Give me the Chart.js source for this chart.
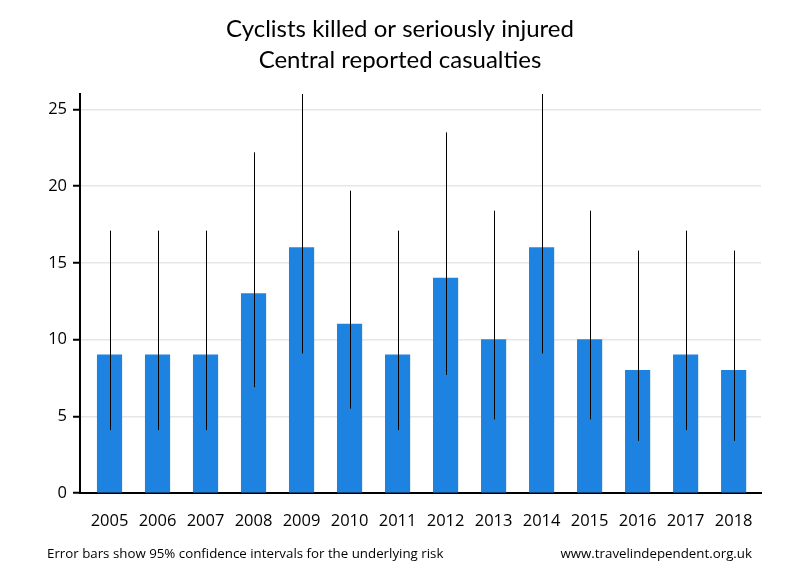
<!DOCTYPE html>
<html>
<head>
<meta charset="utf-8">
<script src="https://cdn.jsdelivr.net/npm/chart.js@4"></script>
<style>
html,body{margin:0;padding:0;background:#fff;}
#wrap{width:800px;height:580px;}
</style>
</head>
<body>
<div id="wrap"><canvas id="c" width="800" height="580"></canvas></div>
<script>
const years = ['2005','2006','2007','2008','2009','2010','2011','2012','2013','2014','2015','2016','2017','2018'];
const casualties = [9, 9, 9, 13, 16, 11, 9, 14, 10, 16, 10, 8, 9, 8];
const ciLower = [4.1, 4.1, 4.1, 6.9, 9.1, 5.5, 4.1, 7.7, 4.8, 9.1, 4.8, 3.4, 4.1, 3.4];
const ciUpper = [17.1, 17.1, 17.1, 22.2, 26.0, 19.7, 17.1, 23.5, 18.4, 26.0, 18.4, 15.8, 17.1, 15.8];
const yTicks = [0, 5, 10, 15, 20, 25];
const titleLines = ['Cyclists killed or seriously injured', 'Central reported casualties'];
const footLeft = 'Error bars show 95% confidence intervals for the underlying risk';
const footRight = 'www.travelindependent.org.uk';

const FONT = '"Open Sans", sans-serif';

const errorBars = {
  id: 'errorBars',
  afterDatasetsDraw(chart) {
    const {ctx, chartArea, scales} = chart;
    ctx.save();
    ctx.beginPath();
    ctx.rect(chartArea.left, chartArea.top, chartArea.right - chartArea.left, chartArea.bottom - chartArea.top);
    ctx.clip();
    ctx.strokeStyle = '#000';
    ctx.lineWidth = 1;
    years.forEach((y, i) => {
      const x = Math.round(scales.x.getPixelForValue(i)) + 0.5;
      ctx.beginPath();
      ctx.moveTo(x, scales.y.getPixelForValue(ciLower[i]));
      ctx.lineTo(x, scales.y.getPixelForValue(ciUpper[i]));
      ctx.stroke();
    });
    ctx.restore();
  }
};

const texts = {
  id: 'texts',
  afterDraw(chart) {
    const {ctx} = chart;
    ctx.save();
    ctx.fillStyle = '#000';
    ctx.textBaseline = 'alphabetic';
    ctx.textAlign = 'center';
    ctx.font = '24px Lato, sans-serif';
    ctx.fillText(titleLines[0], 400, 37);
    ctx.fillText(titleLines[1], 400, 68);
    ctx.font = '13.3px ' + FONT;
    ctx.textAlign = 'left';
    ctx.fillText(footLeft, 47, 558);
    ctx.textAlign = 'right';
    ctx.fillText(footRight, 752, 558);
    ctx.restore();
  }
};

new Chart(document.getElementById('c'), {
  type: 'bar',
  data: {
    datasets: [{
      data: casualties.map((v, i) => ({x: i, y: v})),
      backgroundColor: '#1E82E1',
      borderWidth: 0,
      barThickness: 24.5
    }]
  },
  options: {
    responsive: false,
    animation: false,
    layout: {padding: {top: 94, left: 0, right: 39, bottom: 0}},
    plugins: {legend: {display: false}, tooltip: {enabled: false}, title: {display: false}},
    scales: {
      x: {
        type: 'linear',
        offset: false,
        min: -0.615,
        max: 13.57,
        grid: {display: false, drawTicks: false},
        border: {display: true, color: '#000', width: 2},
        afterBuildTicks: s => { s.ticks = years.map((_, i) => ({value: i})); },
        afterFit: s => { s.height = 87; },
        ticks: {
          autoSkip: false,
          maxRotation: 0,
          padding: 18,
          color: '#000',
          font: {family: FONT, size: 16.5},
          callback: v => years[v]
        }
      },
      y: {
        min: 0,
        max: 26,
        afterBuildTicks: s => { s.ticks = yTicks.map(v => ({value: v})); },
        afterFit: s => { s.width = 80; },
        grid: {color: '#e6e6e6', lineWidth: 1.5, tickLength: 7, tickColor: '#000', tickWidth: 2},
        border: {display: true, color: '#000', width: 2},
        ticks: {
          padding: 6,
          color: '#000',
          font: {family: FONT, size: 16.5}
        }
      }
    }
  },
  plugins: [errorBars, texts]
});
</script>
</body>
</html>
